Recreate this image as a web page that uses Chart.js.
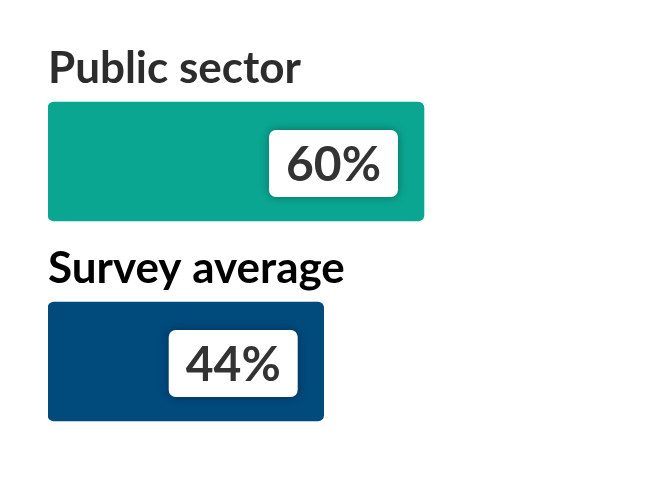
<!DOCTYPE html>
<html>
<head>
<meta charset="utf-8">
<script src="https://cdn.jsdelivr.net/npm/chart.js@4.4.0/dist/chart.umd.min.js"></script>
<style>
  html, body { margin: 0; padding: 0; background: #fff; }
  #wrap { width: 656px; height: 492px; }
</style>
</head>
<body>
<div id="wrap"><canvas id="barChart" width="656" height="492"></canvas></div>
<script>
// data
const categories = ["Public sector", "Survey average"];
const values = [60, 44];
const barColors = ["#0aa691", "#004a7c"];
const labelColors = ["#2c2c2c", "#000000"];

// category names above each bar + value boxes inside
const barLabels = {
    id: 'barLabels',
    afterDatasetsDraw(chart) {
        const ctx = chart.ctx;
        const meta = chart.getDatasetMeta(0);
        meta.data.forEach((bar, i) => {
            const top = bar.y - bar.height / 2;
            // category name
            ctx.save();
            ctx.font = "bold 44px Lato";
            ctx.fillStyle = labelColors[i];
            ctx.textAlign = "left";
            ctx.textBaseline = "alphabetic";
            ctx.fillText(categories[i], bar.base, top - 19);
            ctx.restore();

            // value box
            const text = values[i] + "%";
            ctx.save();
            ctx.font = "bold 48px Lato";
            const w = 129, h = 67;
            const x = bar.x - 26 - w;
            const y = bar.y - h / 2 + 2;
            ctx.shadowColor = "rgba(0,0,0,0.35)";
            ctx.shadowBlur = 9;
            ctx.fillStyle = "#fff";
            ctx.beginPath();
            ctx.roundRect(x, y, w, h, 7);
            ctx.fill();
            ctx.shadowColor = "transparent";
            ctx.fillStyle = "#333333";
            ctx.textAlign = "center";
            ctx.textBaseline = "middle";
            ctx.fillText(text, x + w / 2, y + h / 2 + 2);
            ctx.restore();
        });
    }
};

const ctx = document.getElementById('barChart').getContext('2d');
new Chart(ctx, {
    type: 'bar',
    data: {
        labels: categories,
        datasets: [{
            data: values,
            backgroundColor: barColors,
            borderRadius: 6,
            borderSkipped: false,
            barThickness: 119
        }]
    },
    options: {
        indexAxis: 'y',
        responsive: false,
        animation: false,
        layout: {
            padding: { left: 48, right: 24, top: 61.5, bottom: 30.5 }
        },
        scales: {
            x: { display: false, min: 0, max: 93.2 },
            y: { display: false }
        },
        plugins: {
            legend: { display: false },
            tooltip: { enabled: false }
        }
    },
    plugins: [barLabels]
});
</script>
</body>
</html>
